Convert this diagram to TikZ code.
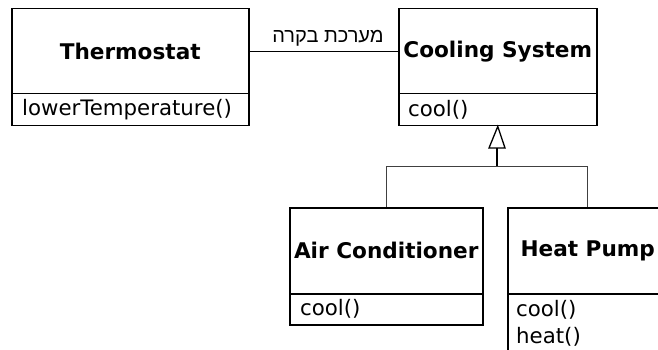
\documentclass[tikz,border=0pt]{standalone}
\usepackage{fontspec}
\setmainfont{DejaVu Sans}
\newfontfamily\hebfont[Script=Hebrew]{Liberation Sans}
\TeXXeTstate=1
\begin{document}
\begin{tikzpicture}[x=1pt,y=-1pt,
  titlebox/.style={draw, line width=1.5pt, inner sep=0pt, anchor=north west,
    font=\fontsize{21.6}{25}\selectfont\bfseries},
  methbox/.style={draw, line width=1.5pt, inner sep=0pt, anchor=north west},
  methtext/.style={inner sep=0pt, anchor=west, font=\fontsize{21.3}{27}\selectfont},
  branch/.style={draw=black!75, line width=1pt},
  stem/.style={draw=black, line width=1.6pt}]
\useasboundingbox (0,0) rectangle (658,350);
\clip (0,0) rectangle (658,350);
% Thermostat
\node[titlebox, minimum width=237pt, minimum height=85pt] (th) at (11,8) {Thermostat};
\node[methbox, minimum width=237pt, minimum height=32pt] (thm) at (11,93) {};
\node[methtext] (thmt) at (22,109.5) {lowerTemperature()};
% Cooling System
\node[titlebox, minimum width=198pt, minimum height=85pt] (cs) at (398,8) {Cooling System};
\node[methbox, minimum width=198pt, minimum height=32pt] (csm) at (398,93) {};
\node[methtext] (csmt) at (408,109.5) {cool()};
% Air Conditioner
\node[titlebox, minimum width=193pt, minimum height=86pt] (ac) at (289,207) {Air Conditioner};
\node[methbox, minimum width=193pt, minimum height=31pt] (acm) at (289,293) {};
\node[methtext] (acmt) at (300,309) {cool()};
% Heat Pump
\node[titlebox, minimum width=160pt, minimum height=86pt] (hp) at (507,207) {Heat Pump};
\node[methbox, minimum width=160pt, minimum height=80pt] (hpm) at (507,293) {};
\node[inner sep=0pt, anchor=north west, align=left, font=\fontsize{21.3}{27}\selectfont] (hpmt) at (516,300) {cool()\\heat()};
% association
\draw[line width=1pt] (th.east) -- (cs.west);
\node[font=\hebfont\fontsize{20}{24}\selectfont, anchor=base] (lbl) at (328,43) {\beginR מערכת בקרה\endR};
% generalization
\coordinate (tri) at (497,148);
\coordinate (j) at (497,166);
\draw[line width=1.3pt, fill=white] (csm.south) -- ([xshift=-8pt]tri) -- ([xshift=8pt]tri) -- cycle;
\draw[stem] (tri) -- (j);
\draw[branch] (j) -| (ac.north);
\draw[branch] (j) -| (hp.north);
\end{tikzpicture}
\end{document}
